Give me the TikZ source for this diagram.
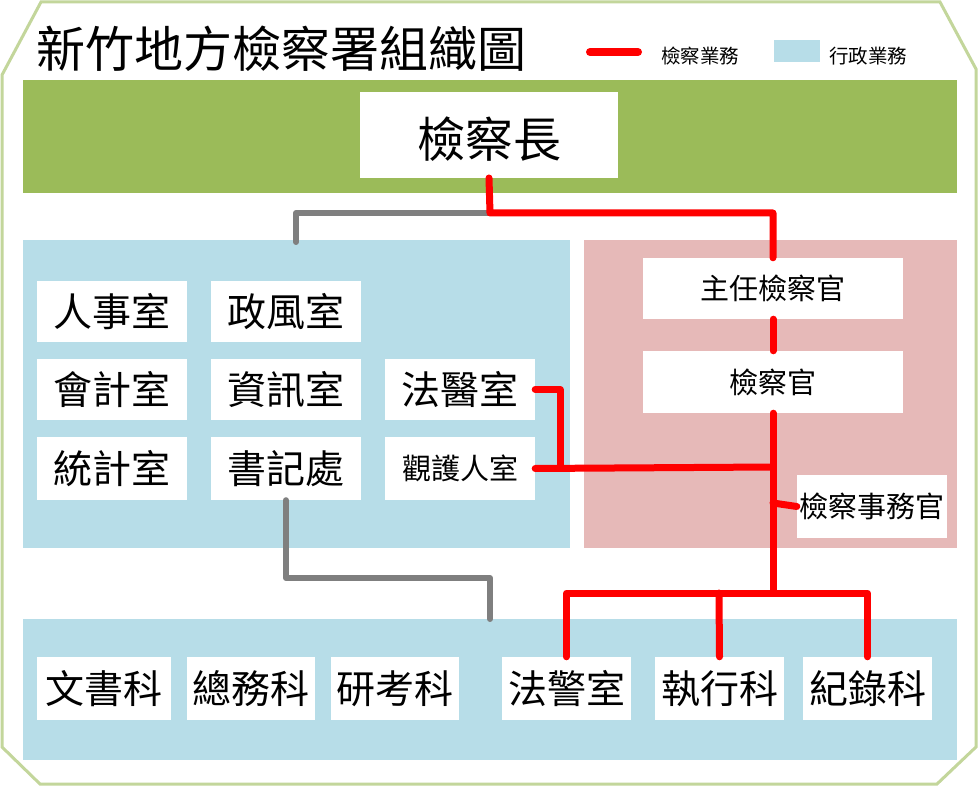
\documentclass[tikz,border=0pt]{standalone}
\usepackage{fontspec}
\setmainfont{Noto Sans CJK TC}
\definecolor{bandgreen}{HTML}{9BBB59}
\definecolor{adminblue}{HTML}{B7DDE8}
\definecolor{prosecpink}{HTML}{E6B9B8}
\definecolor{framegreen}{HTML}{C3D69B}
\definecolor{redline}{HTML}{FF0000}
\definecolor{grayline}{HTML}{7F7F7F}
\begin{document}
\begin{tikzpicture}[x=1pt,y=-1pt,
  redc/.style={draw=redline,line width=7pt,line cap=round,line join=round},
  grayc/.style={draw=grayline,line width=6pt,line cap=round,line join=round}]
\useasboundingbox (0,0) rectangle (978,786);
\fill[white] (0,0) rectangle (978,786);
\draw[framegreen,line width=3pt] (41,2) -- (940,2) -- (976,69) -- (976,747) -- (937,784) -- (40,784) -- (2,747) -- (2,75) -- cycle;
% panels
\fill[bandgreen] (23,80) rectangle (957,193);
\fill[adminblue] (23,240) rectangle (570,548);
\fill[prosecpink] (584,240) rectangle (957,548);
\fill[adminblue] (23,619) rectangle (957,760);
% title and legend
\node[anchor=west,font=\fontsize{49}{49}\selectfont,inner sep=0pt] (title) at (36,49) {新竹地方檢察署組織圖};
\coordinate (lg1) at (590,52); \coordinate (lg2) at (638,52);
\draw[redc,line width=8pt] (lg1) -- (lg2);
\node[anchor=west,font=\fontsize{19.5}{19.5}\selectfont,inner sep=0pt] (lgt1) at (661,56) {檢察業務};
\fill[adminblue] (774,40) rectangle (820,62);
\node[anchor=west,font=\fontsize{19.5}{19.5}\selectfont,inner sep=0pt] (lgt2) at (829,56) {行政業務};
% boxes
\fill[white] (360,92) rectangle (618,178);
\node[inner sep=0pt,minimum width=258pt,minimum height=86pt,font=\fontsize{48}{48}\selectfont,text depth=0pt] (chief) at (489,135) {\raisebox{-4pt}{檢察長}};
\newcommand{\wb}[7]{\fill[white] (#2,#3) rectangle (#4,#5); \node[inner sep=0pt,font=\fontsize{#6}{#6}\selectfont,minimum width={#4-#2},minimum height={#5-#3}] (#1) at ({(#2+#4)/2},{(#3+#5)/2}) {\raisebox{-3pt}{#7}};}
\wb{rs}{37}{281}{187}{342}{39}{人事室}
\wb{zf}{211}{281}{361}{342}{39}{政風室}
\wb{kj}{37}{359}{187}{420}{39}{會計室}
\wb{zx}{211}{359}{361}{420}{39}{資訊室}
\wb{fy}{385}{359}{535}{420}{39}{法醫室}
\wb{tj}{37}{437}{187}{500}{39}{統計室}
\wb{sj}{211}{437}{361}{500}{39}{書記處}
\wb{gh}{385}{437}{535}{500}{29}{觀護人室}
\wb{zr}{643}{258}{903}{319}{29}{主任檢察官}
\wb{jc}{643}{351}{903}{413}{29}{檢察官}
\wb{sw}{797}{475}{947}{538}{29}{檢察事務官}
\wb{ws}{37}{657}{171}{720}{39}{文書科}
\wb{zw}{187}{657}{315}{720}{39}{總務科}
\wb{yk}{331}{657}{459}{720}{39}{研考科}
\wb{fj}{502}{657}{631}{720}{39}{法警室}
\wb{zh}{655}{657}{784}{720}{39}{執行科}
\wb{jl}{803}{657}{932}{720}{39}{紀錄科}
% connectors
\coordinate (j1) at (490,213);
\draw[grayc] (j1) -| (296,242);
\draw[grayc] (sj.south) |- (490,578) -- (490,619);
\draw[redc] (489,178) -- (j1) -| (zr.north);
\draw[redc] (zr.south) -- (jc.north);
\coordinate (j2) at (773,593);
\draw[redc] (jc.south) -- (j2);
\draw[redc] (gh.east) -- (773,467);
\draw[redc] (fy.east) -| (560,467);
\draw[redc] (773,503) -- (sw.west);
\draw[redc] (fj.north) |- (j2) -| (jl.north);
\draw[redc] (zh.north) -- (719,593);
\end{tikzpicture}
\end{document}
